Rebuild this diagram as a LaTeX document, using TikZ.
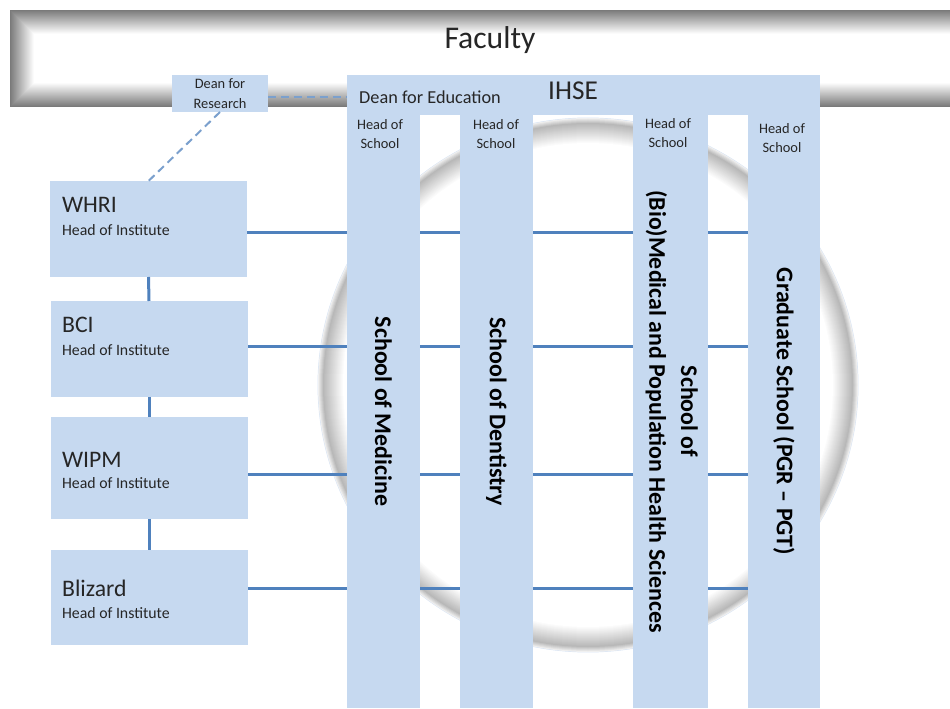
\documentclass[tikz,border=0pt]{standalone}
\usepackage{fontspec}
\setmainfont{Carlito}
\usetikzlibrary{positioning, backgrounds}

\definecolor{boxblue}{RGB}{198,217,240}
\definecolor{linkblue}{RGB}{79,129,189}
\colorlet{labelgray}{black!85}

\begin{document}
\begin{tikzpicture}[x=0.02cm, y=-0.02cm,
    box/.style={fill=boxblue, inner sep=0pt, outer sep=0pt},
    boxsize/.style 2 args={minimum width=#1*0.02cm, minimum height=#2*0.02cm},
    column/.style={box, font=\bfseries\fontsize{13.6}{15}\selectfont, text=black},
    colhead/.style={font=\fontsize{8.2}{11}\selectfont, align=center, text=labelgray, inner sep=1pt},
    instname/.style={anchor=west, font=\fontsize{13.5}{15}\selectfont, text=labelgray, inner sep=1pt},
    insthead/.style={anchor=west, font=\fontsize{9}{10}\selectfont, text=labelgray, inner sep=1pt},
    link/.style={draw=linkblue, line width=0.06cm},
    dashlink/.style={draw=linkblue!75, line width=0.04cm, dash pattern=on 0.16cm off 0.1cm}]
  \useasboundingbox (0,0) rectangle (950,709);

  \begin{scope}[on background layer]
    % faculty bar
    \foreach \i [evaluate=\i as \g using {max(0,52-2.2*\i)}] in {0,...,24}
      \fill[black!\g!white] (10+\i,10+\i) rectangle (990-\i,107-\i);
    % circle
    \draw[boxblue!70, line width=0.02cm] (588,385) ellipse [x radius=5.4cm, y radius=5.34cm];
    \foreach \i [evaluate=\i as \g using {ifthenelse(\i<5, 6+4.4*\i, max(0,28-1.4*(\i-5)))}] in {0,...,26}
      \fill[black!\g!white] (588,385) ellipse [x radius={(270-\i)*0.02cm}, y radius={(267-\i)*0.02cm}];
  \end{scope}

  \node[font=\fontsize{18}{20}\selectfont, text=labelgray] (fac) at (490,40) {Faculty};

  % deans
  \node[box, boxsize={96}{37}, colhead] (dres) at (220,93.5) {Dean for\\Research};
  \node[box, boxsize={473}{40}] (ihse) at (583.5,95) {};
  \node[font=\fontsize{15.5}{17}\selectfont, text=labelgray] (ihset) at (573,91) {IHSE};
  \node[anchor=west, font=\fontsize{10.4}{12}\selectfont, text=labelgray] (dedu) at (353,97) {Dean for Education};

  % schools
  \node[column, boxsize={73}{593}] (med) at (383.5,411.5) {\rotatebox{-90}{School of Medicine}};
  \node[column, boxsize={73}{593}] (dent) at (496.5,411.5) {\rotatebox{-90}{School of Dentistry}};
  \node[column, boxsize={75}{593}] (bio) at (670.5,411.5)
    {\rotatebox{-90}{\begin{tabular}{@{}c@{}}School of\\[3pt](Bio)Medical and Population Health Sciences\end{tabular}}};
  \node[column, boxsize={72}{593}] (grad) at (784,411.5) {\rotatebox{-90}{Graduate School (PGR -- PGT)}};

  \node[colhead] (hsmed) at (380,134) {Head of\\School};
  \node[colhead] (hsdent) at (496,134) {Head of\\School};
  \node[colhead] (hsbio) at (668,133) {Head of\\School};
  \node[colhead] (hsgrad) at (782,138) {Head of\\School};

  % institutes
  \node[box, boxsize={197}{96}] (whri) at (148.5,229) {};
  \node[box, boxsize={197}{96}] (bci) at (149,349) {};
  \node[box, boxsize={197}{102}] (wipm) at (149,468) {};
  \node[box, boxsize={197}{95}] (bliz) at (149,597.5) {};

  \node[instname] (whrin) at (60,205) {WHRI};
  \node[insthead] (whrih) at (60,230) {Head of Institute};
  \node[instname] (bcin) at (60,325) {BCI};
  \node[insthead] (bcih) at (60,350) {Head of Institute};
  \node[instname] (wipmn) at (60,460) {WIPM};
  \node[insthead] (wipmh) at (60,483) {Head of Institute};
  \node[instname] (blizn) at (60,588) {Blizard};
  \node[insthead] (blizh) at (60,613) {Head of Institute};

  \draw[link] (whri.south) -- (bci.north);
  \draw[link] (bci.south) -- (wipm.north);
  \draw[link] (wipm.south) -- (bliz.north);

  \begin{scope}[on background layer]
    \foreach \n/\dy in {whri/4, bci/-2, wipm/6, bliz/-9.5}
      \draw[link] ([shift={(0,\dy)}]\n.east) -- ([shift={(0,\dy)}]\n.east -| grad.west);
  \end{scope}

  \draw[dashlink] (dres.south) -- (whri.north);
  \draw[dashlink] ([shift={(0,4)}]dres.east) -- ([shift={(0,4)}]dres.east -| ihse.west);
\end{tikzpicture}
\end{document}
